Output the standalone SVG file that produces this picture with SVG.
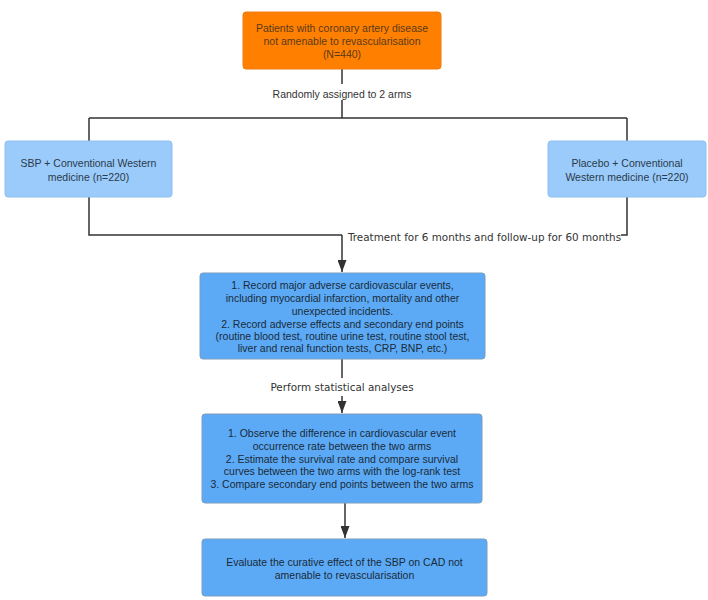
<svg xmlns="http://www.w3.org/2000/svg" width="708" height="600" viewBox="0 0 708 600">
<defs>
<style>
.box text{font-family:"Liberation Sans",Arial,sans-serif;font-size:10.5px;text-anchor:middle}
.orange rect{fill:#FF8000;stroke:#F07A10;stroke-width:1}
.orange text{fill:#5a3a1a}
.light rect{fill:#9ACBFA;stroke:#8EC0F0;stroke-width:1}
.light text{fill:#2a3a4a}
.mid rect{fill:#5CAAF5;stroke:#7a9cc0;stroke-width:1}
.mid text{fill:#1a2a3a}
.conn path{fill:none;stroke:#333;stroke-width:1.5}
.lbl{font-family:"DejaVu Sans",Verdana,sans-serif;font-size:10.4px;fill:#333}
.lbl2{font-family:"Liberation Sans",Arial,sans-serif;font-size:10.5px;fill:#333;text-anchor:middle}
</style>
<marker id="arr" markerWidth="12" markerHeight="9" refX="12" refY="4.5" orient="auto" markerUnits="userSpaceOnUse" viewBox="0 0 12 9">
<path d="M0,0 L12,4.5 L0,9 Z" fill="#333" stroke="none"/>
</marker>
</defs>
<g id="connectors" class="conn">
<path d="M342,69 V84"/>
<path d="M342,100 V118 M89,118 H627 M89,118 V141 M627,118 V141"/>
<path d="M89,197 V235 H342 M627,197 V235 H621"/>
<path d="M342,235 V272" marker-end="url(#arr)"/>
<path d="M342,359 V378"/>
<path d="M342,396 V413" marker-end="url(#arr)"/>
<path d="M345,503 V538" marker-end="url(#arr)"/>
<text class="lbl2" x="342" y="98" stroke="none">Randomly assigned to 2 arms</text>
<text class="lbl" x="348" y="241" stroke="none">Treatment for 6 months and follow-up for 60 months</text>
<text class="lbl" x="342" y="391" text-anchor="middle" stroke="none">Perform statistical analyses</text>
</g>
<g id="n1" class="box orange">
<rect x="243" y="12" width="198" height="57" rx="3"/>
<text x="342" y="32">Patients with coronary artery disease</text>
<text x="342" y="45">not amenable to revascularisation</text>
<text x="342" y="58">(N=440)</text>
</g>
<g id="n2" class="box light">
<rect x="5" y="141" width="167" height="56" rx="3"/>
<text x="88.5" y="167">SBP + Conventional Western</text>
<text x="88.5" y="181">medicine (n=220)</text>
</g>
<g id="n3" class="box light">
<rect x="548" y="141" width="158" height="56" rx="3"/>
<text x="627" y="167">Placebo + Conventional</text>
<text x="627" y="181">Western medicine (n=220)</text>
</g>
<g id="n4" class="box mid">
<rect x="200" y="273" width="285" height="86" rx="3"/>
<text x="342.5" y="289">1. Record major adverse cardiovascular events,</text>
<text x="342.5" y="302">including myocardial infarction, mortality and other</text>
<text x="342.5" y="315">unexpected incidents.</text>
<text x="342.5" y="328">2. Record adverse effects and secondary end points</text>
<text x="342.5" y="340">(routine blood test, routine urine test, routine stool test,</text>
<text x="342.5" y="352">liver and renal function tests, CRP, BNP, etc.)</text>
</g>
<g id="n5" class="box mid">
<rect x="202" y="414" width="280" height="89" rx="3"/>
<text x="342" y="437">1. Observe the difference in cardiovascular event</text>
<text x="342" y="450">occurrence rate between the two arms</text>
<text x="342" y="463">2. Estimate the survival rate and compare survival</text>
<text x="342" y="475">curves between the two arms with the log-rank test</text>
<text x="342" y="488">3. Compare secondary end points between the two arms</text>
</g>
<g id="n6" class="box mid">
<rect x="202" y="539" width="285" height="57" rx="3"/>
<text x="344.5" y="566">Evaluate the curative effect of the SBP on CAD not</text>
<text x="344.5" y="579">amenable to revascularisation</text>
</g>
</svg>
